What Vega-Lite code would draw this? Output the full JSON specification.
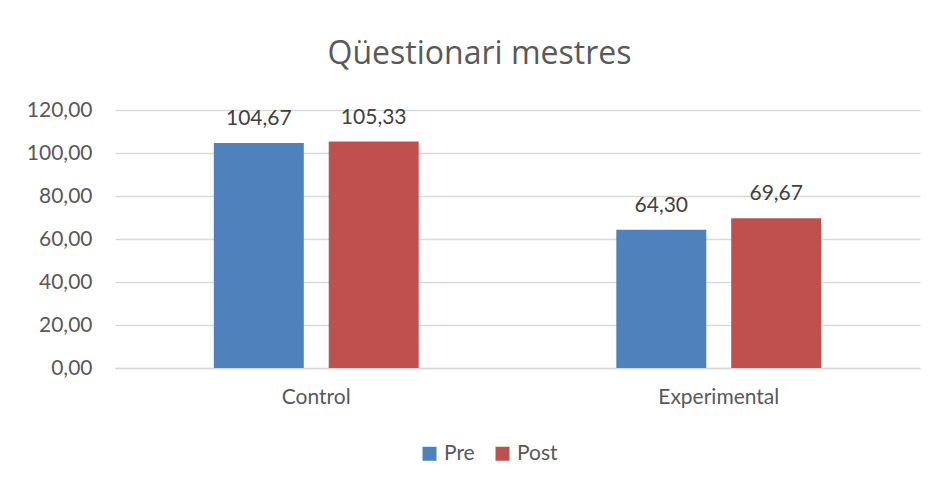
{
  "$schema": "https://vega.github.io/schema/vega-lite/v6.json",
  "autosize": "none",
  "width": 805,
  "height": 258,
  "padding": {"left": 115, "top": 110, "right": 18, "bottom": 116},
  "background": "white",
  "config": {
    "locale": {"number": {"decimal": ",", "thousands": ".", "grouping": [3], "currency": ["", " €"]}},
    "font": "Lato",
    "view": {"stroke": null}
  },
  "title": {
    "text": "Qüestionari mestres",
    "font": "Open Sans",
    "fontSize": 32,
    "fontWeight": "normal",
    "color": "#595959",
    "anchor": "middle",
    "frame": "group",
    "baseline": "alphabetic",
    "dx": -38,
    "offset": 3
  },
  "data": {
    "values": [
      {"grup": "Control", "moment": "Pre", "valor": 104.67},
      {"grup": "Control", "moment": "Post", "valor": 105.33},
      {"grup": "Experimental", "moment": "Pre", "valor": 64.30},
      {"grup": "Experimental", "moment": "Post", "valor": 69.67}
    ]
  },
  "encoding": {
    "x": {
      "field": "grup",
      "type": "nominal",
      "sort": ["Control", "Experimental"],
      "scale": {"paddingInner": 0.491, "paddingOuter": 0.2455},
      "axis": {
        "title": null,
        "labelAngle": 0,
        "labelFont": "Lato",
        "labelFontSize": 21,
        "labelColor": "#595959",
        "labelPadding": 18,
        "ticks": false,
        "domainColor": "#D9D9D9",
        "domainWidth": 1.5
      }
    },
    "xOffset": {
      "field": "moment",
      "type": "nominal",
      "sort": ["Pre", "Post"],
      "scale": {"paddingInner": 0.217, "paddingOuter": 0}
    },
    "y": {
      "field": "valor",
      "type": "quantitative",
      "scale": {"domain": [0, 120], "nice": false},
      "axis": {
        "title": null,
        "values": [0, 20, 40, 60, 80, 100, 120],
        "format": ".2f",
        "labelFont": "Lato",
        "labelFontSize": 21,
        "labelColor": "#595959",
        "labelPadding": 23,
        "ticks": false,
        "domain": false,
        "gridColor": "#D9D9D9",
        "gridWidth": 1.5
      }
    }
  },
  "layer": [
    {
      "mark": {"type": "bar"},
      "encoding": {
        "color": {
          "field": "moment",
          "type": "nominal",
          "sort": ["Pre", "Post"],
          "scale": {"domain": ["Pre", "Post"], "range": ["#4F81BD", "#C0504D"]},
          "legend": {
            "title": null,
            "orient": "none",
            "direction": "horizontal",
            "legendX": 304,
            "legendY": 333,
            "symbolType": "square",
            "symbolSize": 196,
            "symbolStrokeWidth": 0,
            "symbolOpacity": 1,
            "labelFont": "Lato",
            "labelFontSize": 21,
            "labelColor": "#595959",
            "labelOffset": 4,
            "columnPadding": 17
          }
        }
      }
    },
    {
      "mark": {"type": "text", "baseline": "alphabetic", "dy": -18, "font": "Lato", "fontSize": 21, "color": "#404040"},
      "encoding": {
        "text": {"field": "valor", "type": "quantitative", "format": ".2f"}
      }
    }
  ]
}
